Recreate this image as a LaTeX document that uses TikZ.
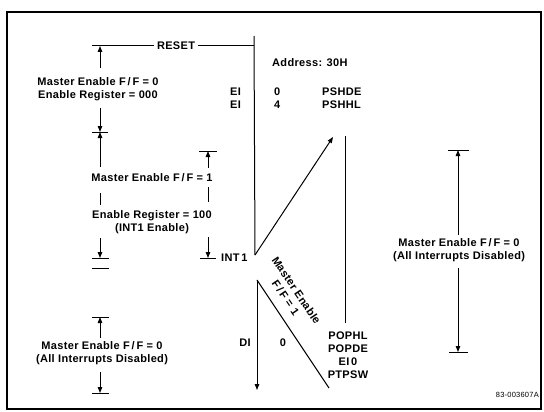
\documentclass[tikz,border=0pt]{standalone}
\usepackage{fontspec}
\setmainfont{Liberation Sans}[LetterSpace=3]
\usetikzlibrary{arrows.meta, positioning, calc}

\begin{document}
\begin{tikzpicture}[x=1pt, y=-1pt,
  lbl/.style = {font=\bfseries\fontsize{11}{13}\selectfont, align=center, inner sep=1pt},
  arrow/.style = {line width=1pt, -{Triangle[length=6pt,width=4.5pt]}},
  line/.style = {line width=1pt},
  bar/.style = {line width=1pt}
]
  \useasboundingbox (0,0) rectangle (544,412);

  % Frame
  \draw[line width=1.2pt] (7,12) rectangle (541,409);

  % RESET entry and main line down to INT 1
  \coordinate (rst_left) at (92,46);
  \coordinate (rst_top) at (254,36);
  \coordinate (int1) at (255,255);
  \node[lbl, inner xsep=3pt] (reset) at (176,46) {RESET};
  \draw[line] (rst_left) -- (reset.west);
  \draw[line] (reset.east) -- (reset.east -| rst_top);
  \draw[line] (rst_top) -- (int1);

  % Interrupt service: push, routine, pop
  \coordinate (push_end) at (333,137);
  \coordinate (svc_top) at (345,136);
  \coordinate (svc_bot) at (345,323);
  \draw[arrow] (int1) -- (push_end);
  \draw[line] (svc_top) -- (svc_bot);

  \coordinate (ret) at (257,280);
  \coordinate (ret_end) at (257,390);
  \coordinate (ret_diag) at (329,388);
  \draw[arrow] (ret) -- (ret_end);
  \draw[line] (ret) -- (ret_diag);
  \node[lbl, rotate=-56] (mef1) at (291,294) {Master Enable\\F\,/\,F = 1};

  % Instruction texts
  \node[lbl, anchor=west] (int1lbl) at (220,258) {INT\,1};
  \node[lbl, anchor=west] (addr) at (271,63) {Address: 30H};
  \node[lbl, anchor=west] (ei0) at (229,92) {EI};
  \node[lbl, anchor=west] (ei4) at (229,105) {EI};
  \node[lbl, anchor=west] (n0) at (273,92) {0};
  \node[lbl, anchor=west] (n4) at (273,105) {4};
  \node[lbl, anchor=west] (pshde) at (321,92) {PSHDE};
  \node[lbl, anchor=west] (pshhl) at (321,105) {PSHHL};
  \node[lbl] (di) at (245,343) {DI};
  \node[lbl] (di0) at (283,343) {0};
  \node[lbl] (popblk) at (348,355) {POPHL\\POPDE\\EI\,0\\PTPSW};

  % Left column: state intervals
  \node[lbl] (me0) at (98,89.5) {Master Enable F\,/\,F = 0\\Enable Register = 000};
  \node[lbl] (me1) at (152,178) {Master Enable F\,/\,F = 1};
  \node[lbl] (er1) at (152,222) {Enable Register = 100\\(INT1 Enable)};
  \node[lbl] (dis1) at (102,353.5) {Master Enable F\,/\,F = 0\\(All Interrupts Disabled)};

  \coordinate (b0) at (100,46);
  \coordinate (b1) at (100,132);
  \coordinate (b2) at (100,258);
  \coordinate (b3) at (100,268);
  \coordinate (b4) at (100,317);
  \coordinate (b5) at (100,393);
  \draw[bar] (b1) ++(-8,0) -- ++(16,0);
  \draw[bar] (b2) ++(-8,0) -- ++(17,0);
  \draw[bar] (b3) ++(-8,0) -- ++(17,0);
  \draw[bar] (b4) ++(-8,0) -- ++(17,0);
  \draw[bar] (b5) ++(-8,0) -- ++(17,0);

  \draw[arrow] (100,68) coordinate (me0_up) -- (b0);
  \draw[arrow] (100,108) coordinate (me0_dn) -- (b1);
  \draw[arrow] (100,167) coordinate (me1_up) -- (b1);
  \draw[line] (100,193) coordinate (me1_a) -- (100,205) coordinate (me1_b);
  \draw[arrow] (100,238) coordinate (er1_dn) -- (b2);
  \draw[arrow] (100,338) coordinate (dis1_up) -- (b4);
  \draw[arrow] (100,372) coordinate (dis1_dn) -- (b5);

  % Second column: INT1 enabled interval
  \coordinate (c1) at (208,151);
  \coordinate (c2) at (208,258);
  \draw[bar] (c1) ++(-9,0) -- ++(18,0);
  \draw[bar] (c2) ++(-8,0) -- ++(16,0);
  \draw[arrow] (208,168) coordinate (c1_up) -- (c1);
  \draw[line] (208,187) coordinate (c1_a) -- (208,202) coordinate (c1_b);
  \draw[arrow] (208,237) coordinate (c2_dn) -- (c2);

  % Right column: all interrupts disabled
  \node[lbl] (dis2) at (459,250.5) {Master Enable F\,/\,F = 0\\(All Interrupts Disabled)};
  \coordinate (d1) at (458,150);
  \coordinate (d2) at (458,352);
  \draw[bar] (d1) ++(-10,0) -- ++(21,0);
  \draw[bar] (d2) ++(-9,0) -- ++(19,0);
  \draw[arrow] (458,235) coordinate (d1_up) -- (d1);
  \draw[arrow] (458,268) coordinate (d2_dn) -- (d2);

  % Drawing number
  \node[font=\fontsize{7.5}{9}\selectfont, anchor=east, inner sep=1pt] (tag) at (540,395) {83-003607A};

\end{tikzpicture}
\end{document}
